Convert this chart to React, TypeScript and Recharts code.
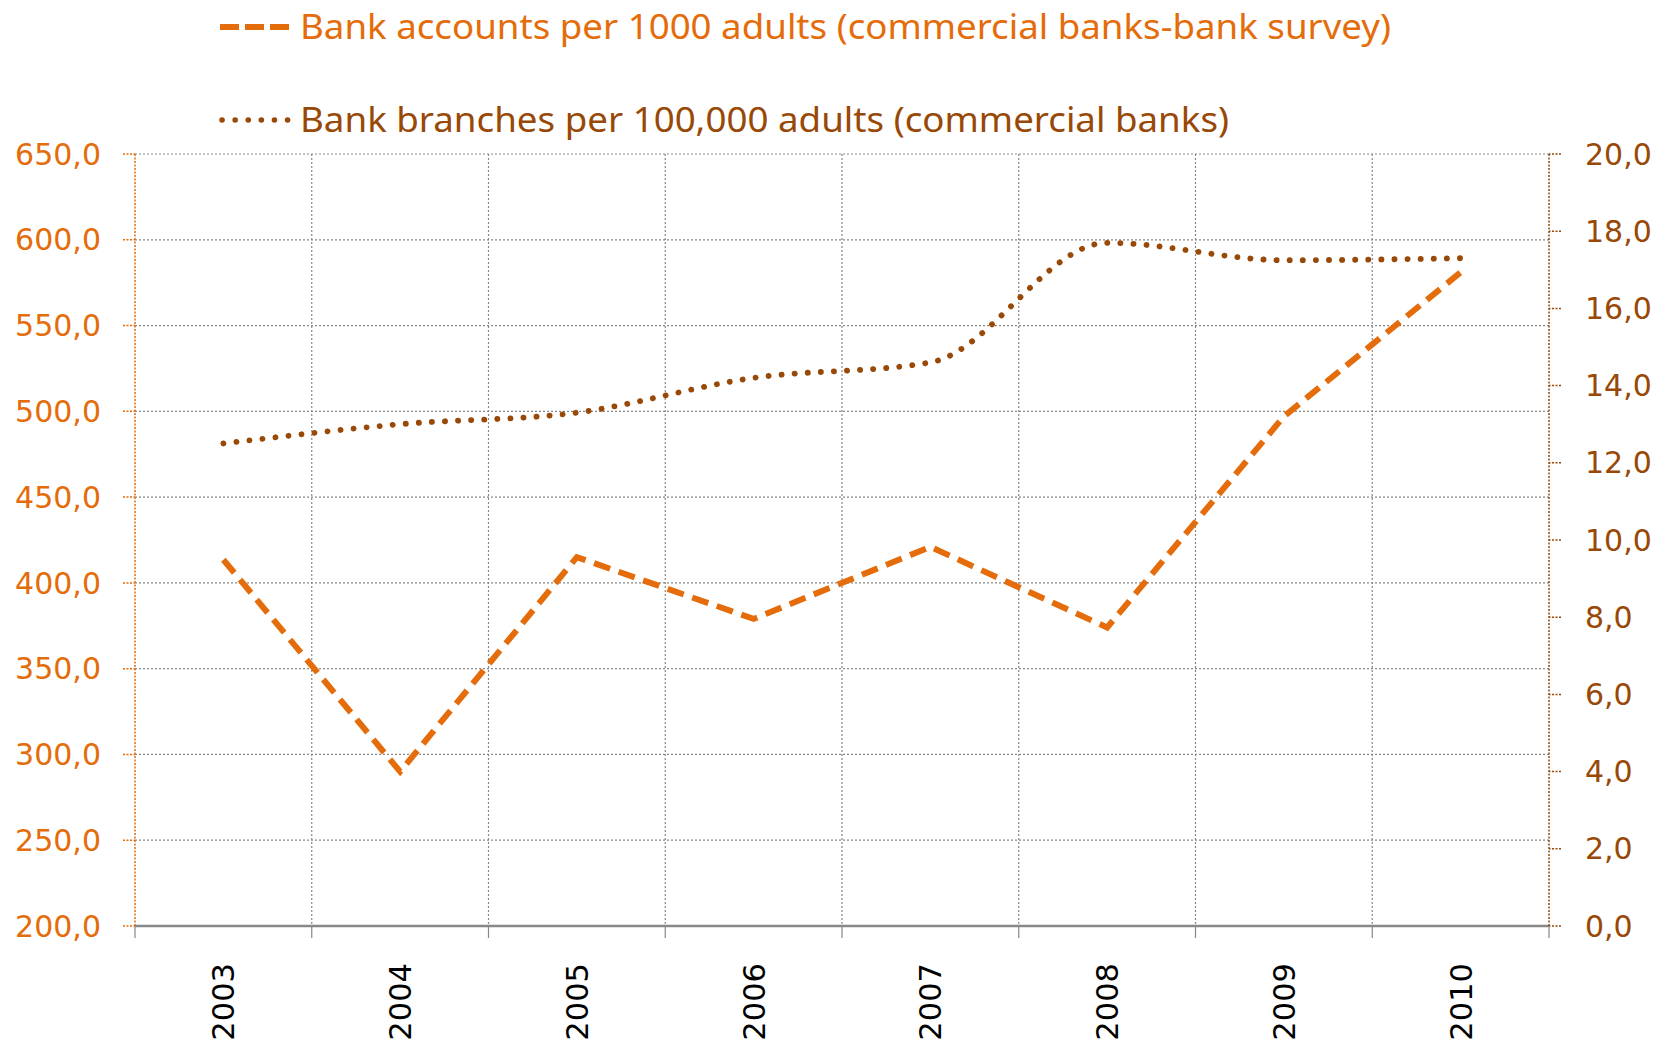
import { CartesianGrid, Legend, Line, LineChart, XAxis, YAxis } from "recharts";

const years = ["2003", "2004", "2005", "2006", "2007", "2008", "2009", "2010"];
const accounts = [413.5, 290, 415, 379, 421, 374, 497, 581];
const branches = [12.5, 13.0, 13.3, 14.2, 14.6, 17.7, 17.25, 17.3];
const leftTicks = [200, 250, 300, 350, 400, 450, 500, 550, 600, 650];
const rightTicks = [0, 2, 4, 6, 8, 10, 12, 14, 16, 18, 20];

const ORANGE = "#E46C0A";
const BROWN = "#984807";
const GRID = "#888888";
const AXIS_FONT = "'DejaVu Sans', Verdana, sans-serif";

const TICK_SIZE = 12;
const X_TICK_MARGIN = 25;

const data = years.map((year, i) => ({ year, accounts: accounts[i], branches: branches[i] }));

const fmt = (v: number) => v.toFixed(1).replace(".", ",");

// year labels sit in the middle of each band, tick marks go on the band edges
function YearTick(props: any) {
  const { x, y, payload, index, visibleTicksCount } = props;
  const half = payload?.offset ?? 0;
  const axisY = y - X_TICK_MARGIN - TICK_SIZE;
  const last = index === visibleTicksCount - 1;
  return (
    <g>
      <line x1={x - half} x2={x - half} y1={axisY} y2={axisY + TICK_SIZE} stroke={GRID} strokeWidth={1.2} />
      {last && (
        <line x1={x + half} x2={x + half} y1={axisY} y2={axisY + TICK_SIZE} stroke={GRID} strokeWidth={1.2} />
      )}
      <text
        x={x}
        y={y}
        dy="0.36em"
        transform={`rotate(-90, ${x}, ${y})`}
        textAnchor="end"
        fill="#000"
        fontSize={30.5}
        fontFamily={AXIS_FONT}
      >
        {payload.value}
      </text>
    </g>
  );
}

const legendWidths = [1091, 929];

function LegendBox({ payload }: any) {
  const items = payload ?? [];
  return (
    <svg width={1665} height={150} style={{ display: "block" }}>
      {items.map((item: any, i: number) => {
        const cy = i === 0 ? 27 : 120;
        const dashed = item.dataKey === "accounts";
        return (
          <g key={item.value}>
            <line
              x1={dashed ? 220 : 222}
              x2={290}
              y1={cy}
              y2={cy}
              stroke={item.color}
              strokeWidth={dashed ? 6 : 5.5}
              strokeDasharray={dashed ? "19 6" : "0.1 13"}
              strokeLinecap={dashed ? "butt" : "round"}
            />
            <text
              x={300}
              y={cy + 12}
              fill={item.color}
              fontSize={35}
              fontFamily="'Noto Sans', 'Open Sans', sans-serif"
              textLength={legendWidths[i]}
              lengthAdjust="spacingAndGlyphs"
            >
              {item.value}
            </text>
          </g>
        );
      })}
    </svg>
  );
}

export default function App() {
  return (
    <div style={{ position: "absolute", left: 0, top: 0, background: "#fff" }}>
      <LineChart width={1665} height={1041} data={data} margin={{ top: 154, right: 0, bottom: 0, left: 0 }}>
        <CartesianGrid
          stroke={GRID}
          strokeDasharray="2 2"
          strokeWidth={1.2}
          yAxisId="left"
          verticalCoordinatesGenerator={({ offset }: any) =>
            years.slice(1).map((_, i) => offset.left + ((i + 1) * offset.width) / years.length)
          }
        />
        <XAxis
          dataKey="year"
          scale="band"
          height={115}
          tickSize={TICK_SIZE}
          tickMargin={X_TICK_MARGIN}
          tickLine={false}
          axisLine={{ stroke: GRID, strokeWidth: 2.5 }}
          tick={<YearTick />}
          interval={0}
        />
        <YAxis
          yAxisId="left"
          width={135}
          domain={[200, 650]}
          ticks={leftTicks}
          tickFormatter={fmt}
          tickSize={TICK_SIZE}
          tickMargin={22}
          axisLine={{ stroke: ORANGE, strokeDasharray: "2 1.5", strokeWidth: 1.5 }}
          tickLine={{ stroke: ORANGE, strokeDasharray: "2 1.5", strokeWidth: 1.5 }}
          tick={{ fill: ORANGE, fontSize: 30, fontFamily: AXIS_FONT }}
          interval={0}
        />
        <YAxis
          yAxisId="right"
          orientation="right"
          width={116}
          domain={[0, 20]}
          ticks={rightTicks}
          tickFormatter={fmt}
          tickSize={TICK_SIZE}
          tickMargin={24}
          axisLine={{ stroke: BROWN, strokeDasharray: "2 1.5", strokeWidth: 1.5 }}
          tickLine={{ stroke: BROWN, strokeDasharray: "2 1.5", strokeWidth: 1.5 }}
          tick={{ fill: BROWN, fontSize: 30, fontFamily: AXIS_FONT, textAnchor: "start" }}
          interval={0}
        />
        <Legend
          layout="vertical"
          align="center"
          verticalAlign="middle"
          wrapperStyle={{ top: 0, left: 0, width: 1665, height: 150 }}
          content={<LegendBox />}
        />
        <Line
          yAxisId="left"
          dataKey="accounts"
          name="Bank accounts per 1000 adults (commercial banks-bank survey)"
          type="linear"
          stroke={ORANGE}
          strokeWidth={6}
          strokeDasharray="17 9"
          dot={false}
          activeDot={false}
          isAnimationActive={false}
        />
        <Line
          yAxisId="right"
          dataKey="branches"
          name="Bank branches per 100,000 adults (commercial banks)"
          type="monotone"
          stroke={BROWN}
          strokeWidth={5.8}
          strokeDasharray="0.1 13"
          strokeLinecap="round"
          dot={false}
          activeDot={false}
          isAnimationActive={false}
        />
      </LineChart>
    </div>
  );
}
